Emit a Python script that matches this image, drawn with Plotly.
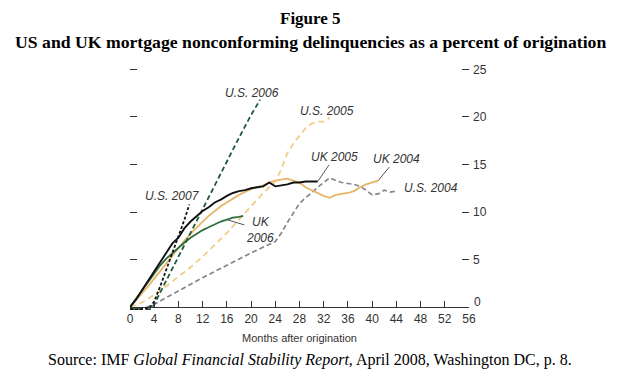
import plotly.graph_objects as go

# ---------------- data (months after origination, % of origination) ----------------
us2006_m = [0, 2, 3.5, 4, 6, 8, 10, 12, 14, 16, 18, 20, 21.5]
us2006_v = [-0.2, -0.2, -0.2, 0.3, 2.8, 5.3, 7.9, 10.4, 12.9, 15.4, 17.8, 20.2, 21.8]

us2007_m = [0, 2, 3.2, 4, 5, 6, 7, 8, 9, 9.8]
us2007_v = [-0.2, -0.2, -0.1, 0.6, 2.2, 3.9, 5.6, 7.4, 9.2, 10.8]

us2005_m = [0, 2, 4, 6, 8, 10, 12, 14, 16, 18, 20, 22, 24, 25, 26, 27, 28, 29, 30, 31, 32, 33]
us2005_v = [0, 0.5, 1.3, 2.2, 3.2, 4.2, 5.3, 6.5, 7.8, 9.2, 10.6, 12.0, 13.2, 14.5, 16.2, 17.2,
            18.0, 18.8, 19.3, 19.5, 19.5, 19.9]

us2004_m = [0, 2, 4, 8, 12, 16, 20, 24, 25, 26, 27, 28, 29, 30, 31, 32, 33, 34, 35, 36, 37,
            38, 39, 40, 41, 42, 43, 44]
us2004_v = [-0.2, -0.2, 0.3, 1.7, 3.1, 4.4, 5.7, 6.9, 7.8, 8.9, 9.9, 10.9, 11.5, 12.0, 12.6,
            13.1, 13.6, 13.3, 13.1, 13.0, 12.9, 12.7, 12.3, 11.8, 11.9, 12.3, 12.1, 12.2]

uk2005_m = list(range(0, 32))
uk2005_v = [0, 0.8, 1.8, 2.8, 3.8, 4.8, 5.8, 6.7, 7.3, 8.3, 9.0, 9.6, 10.1, 10.5, 11.0, 11.3,
            11.7, 12.0, 12.2, 12.3, 12.5, 12.6, 12.7, 13.1, 12.7, 12.8, 12.9, 13.1, 13.1, 13.2,
            13.2, 13.2]

uk2006_m = list(range(0, 19)) + [18.7]
uk2006_v = [0, 0.9, 1.8, 2.7, 3.6, 4.4, 5.1, 5.7, 6.3, 6.8, 7.3, 7.7, 8.1, 8.4, 8.7, 9.0, 9.2,
            9.4, 9.5, 9.6]

uk2004_m = list(range(0, 42))
uk2004_v = [0, 0.7, 1.4, 2.2, 3.0, 3.8, 4.7, 5.5, 6.2, 7.0, 7.7, 8.4, 9.0, 9.6, 10.1, 10.6,
            11.0, 11.4, 11.8, 12.1, 12.4, 12.6, 12.8, 13.1, 13.3, 13.4, 13.5, 13.3, 13.1, 12.6,
            12.3, 12.0, 11.7, 11.5, 11.8, 11.9, 12.0, 12.2, 12.6, 12.9, 13.1, 13.3]

x_ticks = list(range(0, 57, 4))
y_ticks = [5, 10, 15, 20, 25]
y_zero_label = "0"

title1 = "Figure 5"
title2 = "US and UK mortgage nonconforming delinquencies as a percent of origination"
source = "Source: IMF <i>Global Financial Stability Report</i>, April 2008, Washington DC, p. 8."
x_title = "Months after origination"

# ---------------- layout geometry ----------------
OFF = 8  # page body margin
W, H = 619 - OFF, 380 - OFF
ML, MT = 130 - OFF, 56 - OFF
PLOT_R, PLOT_B = 469 - OFF, 310 - OFF
MR, MB = W - PLOT_R, H - PLOT_B
PW, PH = W - ML - MR, H - MT - MB
YR = [-0.3, 26.4]


def py(p):  # page pixel y -> paper
    return (PLOT_B - (p - OFF)) / PH


def pxx(p):  # page pixel x -> paper
    return ((p - OFF) - ML) / PW


DARK_GREEN = "#1f5a3a"
GREEN = "#2f6e3c"
TAN_LIGHT = "#f2cd85"
TAN = "#e6b566"
GRAY = "#85858f"
BLACK = "#111111"

fig = go.Figure()


def add(m, v, color, dash, width=1.8):
    fig.add_trace(go.Scatter(x=m, y=v, mode="lines",
                             line=dict(color=color, width=width, dash=dash),
                             hoverinfo="skip", showlegend=False))


add(us2004_m, us2004_v, GRAY, "5px,3px", 1.7)
add(uk2004_m, uk2004_v, TAN, "solid", 1.8)
add(us2005_m, us2005_v, TAN_LIGHT, "6px,4px", 1.8)
add(uk2006_m, uk2006_v, GREEN, "solid", 1.8)
add(us2006_m, us2006_v, DARK_GREEN, "5px,3px", 1.8)
add(uk2005_m, uk2005_v, BLACK, "solid", 1.9)
add(us2007_m, us2007_v, BLACK, "3px,2px", 1.8)

lab_font = dict(family="Liberation Sans, Arial, sans-serif", size=12, color="#333333")
ann = []


def label(text, x, y, xshift, yshift, xanchor="center"):
    ann.append(dict(x=x, y=y, xref="x", yref="y", text="<i>%s</i>" % text, showarrow=False,
                    xshift=xshift, yshift=yshift, xanchor=xanchor, yanchor="middle",
                    font=lab_font))


def leader(text, x, y, ax, ay):
    ann.append(dict(x=x, y=y, xref="x", yref="y", text="<i>%s</i>" % text, showarrow=True,
                    arrowhead=0, arrowwidth=1, arrowcolor="#555555", ax=ax, ay=ay,
                    xanchor="center", yanchor="middle",
                    standoff=0, font=lab_font))


label("U.S. 2006", us2006_m[-1], us2006_v[-1], -8, 7)
label("U.S. 2005", us2005_m[-1], us2005_v[-1], -3, 7)
label("U.S. 2007", us2007_m[-1], us2007_v[-1], -17, 8)
label("U.S. 2004", us2004_m[-1], us2004_v[-1], 6, 3, xanchor="left")
leader("UK 2005", uk2005_m[-1], uk2005_v[-1], 17, -25)
leader("UK 2004", uk2004_m[-1], uk2004_v[-1], 18, -22)
leader("UK<br>2006", uk2006_m[16], uk2006_v[16], 33, 10)

tick_font = dict(family="Liberation Sans Narrow, Liberation Sans, Arial, sans-serif", size=12,
                 color="#333333")

# right-axis "0" label sits a little above the axis line, as in the original
ann.append(dict(x=1, y=0, xref="paper", yref="y2", text=y_zero_label, showarrow=False,
                xanchor="left", yanchor="middle", xshift=3, yshift=5, font=tick_font))

serif = "Liberation Serif, Times New Roman, serif"
ann.append(dict(x=pxx(310), y=py(18.5), xref="paper", yref="paper", text="<b>%s</b>" % title1,
                showarrow=False, xanchor="center", yanchor="middle",
                font=dict(family=serif, size=17, color="black")))
ann.append(dict(x=pxx(310), y=py(42), xref="paper", yref="paper", text="<b>%s</b>" % title2,
                showarrow=False, xanchor="center", yanchor="middle",
                font=dict(family=serif, size=17.7, color="black")))
ann.append(dict(x=pxx(310), y=py(360), xref="paper", yref="paper", text=source,
                showarrow=False, xanchor="center", yanchor="middle",
                font=dict(family=serif, size=16, color="black")))
ann.append(dict(x=pxx(299), y=py(338), xref="paper", yref="paper", text=x_title,
                showarrow=False, xanchor="center", yanchor="middle",
                font=dict(family="Liberation Sans, Arial, sans-serif", size=11, color="#333333")))

fig.update_layout(
    width=W, height=H,
    margin=dict(l=ML, r=MR, t=MT, b=MB, pad=0),
    paper_bgcolor="white", plot_bgcolor="white",
    annotations=ann,
    xaxis=dict(range=[0, 56], tickvals=x_ticks, ticks="inside", ticklen=6, tickwidth=1,
               tickcolor="#333333", showline=True, linecolor="#333333", linewidth=1,
               showgrid=False, zeroline=False, anchor="free",
               position=(0 - YR[0]) / (YR[1] - YR[0]), tickfont=tick_font),
    yaxis=dict(range=YR, tickvals=y_ticks, ticks="inside", ticklen=7,
               tickwidth=1, tickcolor="#333333", showticklabels=False, showgrid=False,
               zeroline=False, showline=False),
    yaxis2=dict(range=YR, tickvals=y_ticks, ticks="inside", ticklen=7, tickwidth=1,
                tickcolor="#333333", side="right", overlaying="y", showgrid=False,
                zeroline=False, showline=False, tickfont=tick_font, ticklabelstandoff=3),
)
# invisible trace to bring up the right axis
fig.add_trace(go.Scatter(x=[0], y=[0], yaxis="y2", mode="markers", marker=dict(opacity=0),
                         hoverinfo="skip", showlegend=False))

fig.write_html("out.html")
